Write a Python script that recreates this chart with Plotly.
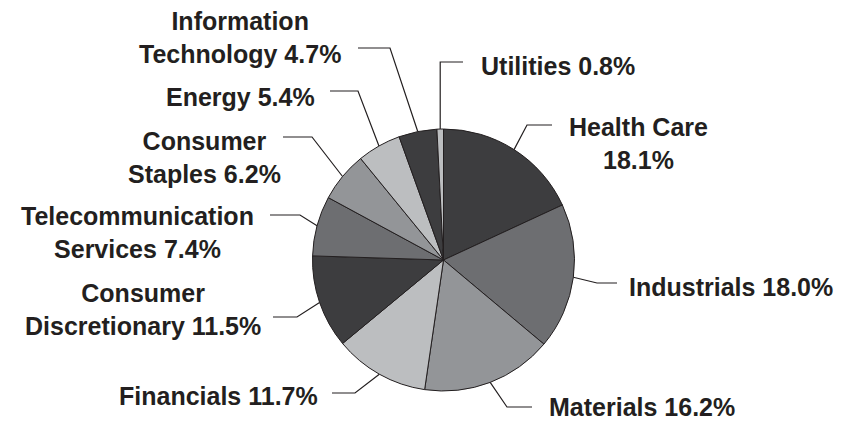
import math
import plotly.graph_objects as go

# ---- data ----
sectors = ["Health Care", "Industrials", "Materials", "Financials",
           "Consumer Discretionary", "Telecommunication Services",
           "Consumer Staples", "Energy", "Information Technology", "Utilities"]
weights = [18.1, 18.0, 16.2, 11.7, 11.5, 7.4, 6.2, 5.4, 4.7, 0.8]
label_texts = ["Health Care<br>18.1%", "Industrials 18.0%", "Materials 16.2%",
               "Financials 11.7%", "Consumer<br>Discretionary 11.5%",
               "Telecommunication<br>Services 7.4%", "Consumer<br>Staples 6.2%",
               "Energy 5.4%", "Information<br>Technology 4.7%", "Utilities 0.8%"]

# ---- styling / layout ----
W, H = 850, 421
CX, CY, R = 443.5, 260.0, 131.0
DARK, MIDDARK, MID, LIGHT = "#3d3d3f", "#6d6e71", "#939598", "#bcbec0"
slice_colors = [DARK, MIDDARK, MID, LIGHT, DARK, MIDDARK, MID, LIGHT, DARK, LIGHT]
TEXT_COLOR = "#231f20"
FONT = "Liberation Sans, Arial, Helvetica, sans-serif"
FS = 25

# label placement (pixels): text anchor x, text center y, xanchor
label_pos = [
    (638, 143, "center"), (627, 287, "left"), (547, 407, "left"),
    (218, 396, "center"), (143, 309, "center"), (137, 233, "center"),
    (204, 157, "center"), (241, 97, "center"), (240, 38, "center"),
    (479, 66, "left"),
]
elbows = [(527, 125), (597, 283), (507, 407), (355, 393), (297, 317),
          (300, 215), (312, 137), (358, 91), (390, 48), (None, 62)]
ends = [552, 617, 532, 332, 273, 270, 283, 330, 358, 463]


def px(x):
    return x / W


def py(y):
    return 1 - y / H


fig = go.Figure(go.Pie(
    labels=sectors, values=weights, sort=False, direction="clockwise",
    rotation=0, textinfo="none", hoverinfo="label+percent",
    marker=dict(colors=slice_colors, line=dict(color=TEXT_COLOR, width=1)),
    domain=dict(x=[px(CX - R), px(CX + R)], y=[py(CY + R), py(CY - R)]),
    showlegend=False,
))

total = sum(weights)
cum = 0.0
shapes, annotations = [], []
for i, w in enumerate(weights):
    mid = (cum + w / 2) / total * 2 * math.pi
    cum += w
    ax = CX + R * math.sin(mid)
    ay = CY - R * math.cos(mid)
    ex, ey = elbows[i]
    if ex is None:
        ex = ax
    path = f"M {px(ax)} {py(ay)} L {px(ex)} {py(ey)} L {px(ends[i])} {py(ey)}"
    shapes.append(dict(type="path", xref="paper", yref="paper", path=path,
                       line=dict(color=TEXT_COLOR, width=1.2)))
    tx, ty, anc = label_pos[i]
    annotations.append(dict(
        x=px(tx), y=py(ty), xref="paper", yref="paper", text=f"<b>{label_texts[i]}</b>",
        showarrow=False, xanchor=anc, yanchor="middle", align="center",
        font=dict(family=FONT, size=FS, color=TEXT_COLOR)))

fig.update_layout(
    width=W, height=H, margin=dict(l=0, r=0, t=0, b=0),
    paper_bgcolor="white", plot_bgcolor="white",
    shapes=shapes, annotations=annotations,
)
fig.write_html("out.html", config={"displayModeBar": False},
               post_script="document.body.style.margin='0';document.body.style.overflow='hidden';")
